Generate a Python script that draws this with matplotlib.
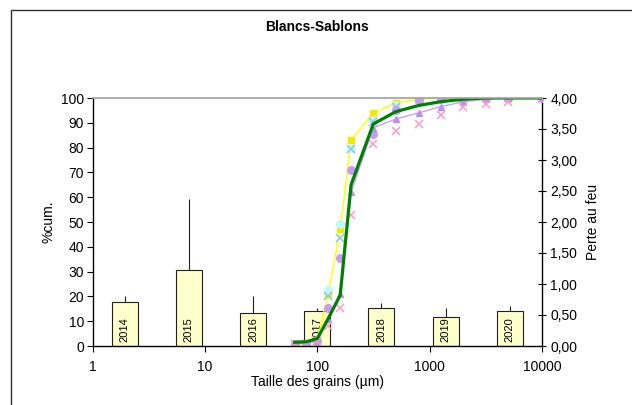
import matplotlib
matplotlib.use("Agg")
import matplotlib.pyplot as plt
from matplotlib.patches import Rectangle
from matplotlib.ticker import FixedLocator, FuncFormatter, NullLocator

plt.rcParams['font.family'] = ['Liberation Sans', 'DejaVu Sans']
plt.rcParams['font.size'] = 10

# tamis (µm) et courbes cumulées (%)
tailles = [63, 80, 100, 125, 160, 200, 315, 500, 800, 1250, 2000, 3150, 5000, 10000]
cum_jaune = [0.5, 1, 2.5, 21, 47, 83, 94, 98, 99.5, 100, 100, 100, 100, 100]
cum_cyan = [1, 1, 2.5, 22.5, 49, 80, 91, 97, 99.5, 100, 100, 100, 100, 100]
cum_bleu = [1, 1, 2, 20, 43.5, 79.5, 90.5, 96.5, 99.5, 100, 100, 100, 100, 100]
cum_violet = [1, 1, 2, 15.5, 35.5, 71, 85.5, 95, 99, 99.5, 100, 100, 100, 100]
cum_lavande = [1, 1, 2, 11, 21, 62, 88, 91.5, 94, 96.5, 98.5, 99.5, 100, 100]
cum_rose = [1, 1, 2, 8, 15.5, 53, 81.5, 86.5, 89.5, 93, 96.5, 97.5, 98.5, 100]
cum_moyenne = [1.5, 1.7, 3, 11, 20.5, 65, 89.5, 94.5, 97, 98.5, 99.5, 100, 100, 100]

# perte au feu par année
annees = ['2014', '2015', '2016', '2017', '2018', '2019', '2020']
perte = [0.71, 1.23, 0.54, 0.56, 0.62, 0.47, 0.57]
perte_max = [0.80, 2.37, 0.81, 0.62, 0.69, 0.61, 0.64]
erreur = [m - p for m, p in zip(perte_max, perte)]

W, H = 632, 405
fig = plt.figure(figsize=(W / 100, H / 100), dpi=100)
fig.patch.set_facecolor('white')

# cadre du graphique
fig.patches.append(Rectangle((11 / W, -0.05), 1.2, 1 - 10 / H + 0.05,
                             transform=fig.transFigure, fill=False,
                             edgecolor='#303030', linewidth=1.0))

pos = [92.5 / W, 59 / H, 449.5 / W, 248 / H]

# histogramme perte au feu (axe secondaire)
axb = fig.add_axes(pos)
x = list(range(len(annees)))
axb.bar(x, perte, width=0.405, color='#ffffcc', edgecolor='#202020', linewidth=0.8,
        zorder=2)
axb.errorbar(x, perte, yerr=[[0] * len(erreur), erreur], fmt='none',
             ecolor='#202020', elinewidth=0.8, capsize=0, zorder=1)
for xi, a in zip(x, annees):
    axb.text(xi, 0.07, a, rotation=90, ha='center', va='bottom', fontsize=8,
             zorder=3)
axb.set_xlim(-0.5, len(annees) - 0.5)
axb.set_ylim(0, 4)
axb.xaxis.set_visible(False)
axb.yaxis.tick_right()
axb.yaxis.set_label_position('right')
axb.set_yticks([0, 0.5, 1, 1.5, 2, 2.5, 3, 3.5, 4])
axb.yaxis.set_major_formatter(FuncFormatter(lambda v, p: f'{v:.2f}'.replace('.', ',')))
axb.tick_params(axis='y', direction='inout', length=6, width=0.8, pad=3)
axb.set_ylabel('Perte au feu', labelpad=6)
for s in ['left', 'top', 'bottom']:
    axb.spines[s].set_visible(False)
axb.spines['right'].set_linewidth(1.0)

# courbes granulométriques
ax = fig.add_axes(pos)
ax.patch.set_alpha(0)
ax.set_xscale('log')
ax.plot(tailles, cum_jaune, color='#ffff00', lw=1.0, marker='s', ms=3.8,
        mfc='#f5e800', mec='#f5e800')
ax.plot(tailles, cum_cyan, ls='none', marker='o', ms=5.5, mfc='#c4f6f6', mec='#c4f6f6')
ax.plot(tailles, cum_bleu, ls='none', marker='x', ms=5.5, mew=1.1, color='#8cc4f0')
ax.plot(tailles, cum_violet, ls='none', marker='o', ms=5.5, mfc='#c89cf2', mec='#c89cf2')
ax.plot(tailles, cum_lavande, color='#c8a0f8', lw=1.0, marker='^', ms=4.2,
        mfc='#b890f0', mec='#b890f0')
ax.plot(tailles, cum_rose, ls='none', marker='x', ms=5.5, mew=1.1, color='#ff99cc')
ax.plot(tailles, cum_moyenne, color='#008000', lw=2.3)

ax.set_xlim(1, 10000)
ax.set_ylim(0, 100)
ax.xaxis.set_major_locator(FixedLocator([1, 10, 100, 1000, 10000]))
ax.xaxis.set_minor_locator(NullLocator())
ax.xaxis.set_major_formatter(FuncFormatter(lambda v, p: f'{v:.0f}'))
ax.set_yticks(range(0, 101, 10))
ax.tick_params(axis='x', direction='out', length=4, width=0.8, pad=6)
ax.tick_params(axis='y', direction='out', length=4, width=0.8, pad=2)
ax.set_xlabel('Taille des grains (µm)', labelpad=1)
ax.set_ylabel('%cum.', labelpad=4)
ax.spines['right'].set_visible(False)
ax.spines['top'].set_color('#a0a0a0')
ax.spines['top'].set_linewidth(1.2)
ax.spines['left'].set_linewidth(1.0)
ax.spines['bottom'].set_linewidth(1.0)

fig.text(317 / W, 1 - 27 / H, 'Blancs-Sablons', ha='center', va='center',
         fontsize=10, fontweight='bold')

fig.savefig('out.png', dpi=100)
